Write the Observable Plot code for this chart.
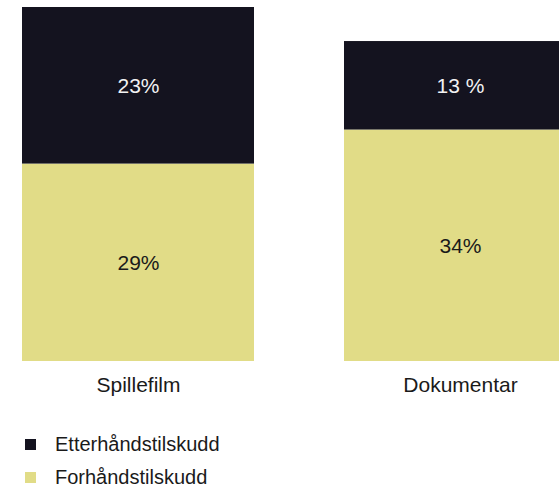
<!DOCTYPE html>
<html>
<head>
<meta charset="utf-8">
<script src="https://cdn.jsdelivr.net/npm/d3@7"></script>
<script src="https://cdn.jsdelivr.net/npm/@observablehq/plot@0.6"></script>
<style>
  html, body { margin: 0; padding: 0; background: #fff; overflow: hidden; }
  body { font-family: "Liberation Sans", Arial, Helvetica, sans-serif; width: 559px; height: 490px; }
  #legend { padding-top: 18px; padding-left: 25px; font-size: 20px; color: #1a1a1a; }
  .row { display: flex; align-items: center; height: 33px; }
  .sw { width: 11px; height: 11px; margin-right: 19px; }
</style>
</head>
<body>
<div id="chart"></div>
<div id="legend"></div>
<script>
const categories = ["Spillefilm", "Dokumentar"];
const seriesNames = ["Forhåndstilskudd", "Etterhåndstilskudd"];
const forhand = [29, 34];
const etterhand = [23, 13];
const forhandLabels = ["29%", "34%"];
const etterhandLabels = ["23%", "13 %"];
const colors = ["#e1dc87", "#14131f"];
const textColors = ["#1a1a1a", "#f2f2f2"];

const rows = [];
categories.forEach((c, i) => {
  rows.push({cat: c, series: seriesNames[0], value: forhand[i], label: forhandLabels[i]});
  rows.push({cat: c, series: seriesNames[1], value: etterhand[i], label: etterhandLabels[i]});
});

const chart = Plot.plot({
  width: 559,
  height: 410,
  marginTop: 7,
  marginBottom: 49,
  marginLeft: 0,
  marginRight: 0,
  style: {fontFamily: '"Liberation Sans", Arial, Helvetica, sans-serif', fontSize: "21px", color: "#1a1a1a", overflow: "hidden", background: "#fff"},
  x: {domain: categories, range: [22, 576], paddingInner: 0.28, paddingOuter: 0, align: 0, tickSize: 0, tickPadding: 16, label: null},
  y: {domain: [0, 52], axis: null},
  color: {domain: seriesNames, range: colors},
  marks: [
    Plot.barY(rows, Plot.stackY({x: "cat", y: "value", fill: "series"})),
    Plot.text(rows, Plot.stackY({
      x: "cat", y: "value", z: "series", text: "label",
      fill: d => textColors[seriesNames.indexOf(d.series)],
      fontSize: 21
    }))
  ]
});
document.getElementById("chart").appendChild(chart);

const legend = document.getElementById("legend");
[1, 0].forEach(i => {
  const row = document.createElement("div");
  row.className = "row";
  const sw = document.createElement("div");
  sw.className = "sw";
  sw.style.background = colors[i];
  const t = document.createElement("span");
  t.textContent = seriesNames[i];
  row.appendChild(sw);
  row.appendChild(t);
  legend.appendChild(row);
});
</script>
</body>
</html>
